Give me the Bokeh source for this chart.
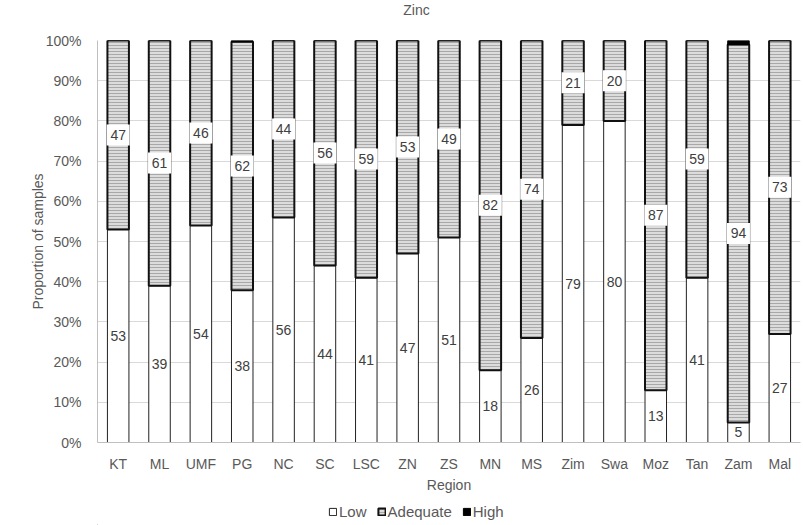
from bokeh.plotting import figure
from bokeh.models import (ColumnDataSource, FactorRange, NumeralTickFormatter, Legend, LegendItem,
                          FixedTicker, Label)
from bokeh.layouts import column
from bokeh.core.properties import value
from bokeh.embed import file_html
from bokeh.resources import INLINE

regions = ["KT", "ML", "UMF", "PG", "NC", "SC", "LSC", "ZN", "ZS", "MN", "MS",
           "Zim", "Swa", "Moz", "Tan", "Zam", "Mal"]
low = [53, 39, 54, 38, 56, 44, 41, 47, 51, 18, 26, 79, 80, 13, 41, 5, 27]
adequate = [47, 61, 46, 62, 44, 56, 59, 53, 49, 82, 74, 21, 20, 87, 59, 94, 73]
high = [0, 0, 0, 0.3, 0, 0, 0, 0, 0, 0, 0, 0, 0, 0, 0, 1, 0]
series = ["Low", "Adequate", "High"]
title_text = "Zinc"

FONT = "Liberation Sans"
GREY = "#595959"
LBL = "#404040"
FL, FR = 97, 800  # frame left / right in page pixels (frames are aligned in the column)

tot = [l + a + h for l, a, h in zip(low, adequate, high)]
low_top = [l / t for l, t in zip(low, tot)]
ad_top = [(l + a) / t for l, a, t in zip(low, adequate, tot)]
src = ColumnDataSource(dict(
    x=regions,
    zero=[0] * len(regions),
    low_top=low_top,
    ad_top=ad_top,
    one=[1] * len(regions),
    low_mid=[v / 2 for v in low_top],
    ad_mid=[(a + b) / 2 for a, b in zip(low_top, ad_top)],
    low_txt=[str(v) for v in low],
    ad_txt=[str(v) for v in adequate],
))

# title strip
t = figure(width=803, height=22, x_range=(FL, FR), y_range=(0, 1), output_backend="svg",
           toolbar_location=None, min_border=0, x_axis_location=None, y_axis_location=None)
t.grid.visible = False
t.outline_line_color = None
t.add_layout(Label(x=416, y=0.55, text=title_text, text_align="center", text_baseline="middle",
                   text_font=FONT, text_font_size="14px", text_color=GREY))

p = figure(x_range=FactorRange(*regions, range_padding=0), y_range=(0, 1),
           width=803, height=473, output_backend="svg", toolbar_location=None,
           min_border_left=FL, min_border_right=803 - FR, min_border_top=18, min_border_bottom=53)
p.outline_line_color = None
p.background_fill_color = "white"

LOW_STYLE = dict(fill_color="white", line_color="#222222", line_width=1)
AD_STYLE = dict(fill_color="#dcdcdc", hatch_pattern="horizontal_line", hatch_color="#a8a8a8",
                hatch_scale=3, hatch_weight=1, line_color="#111111", line_width=2)
HI_STYLE = dict(fill_color="black", line_color="black", line_width=1)

W = 0.52
p.vbar(x="x", bottom="zero", top="low_top", width=W, source=src, **LOW_STYLE)
p.vbar(x="x", bottom="low_top", top="ad_top", width=W, source=src, **AD_STYLE)
p.vbar(x="x", bottom="ad_top", top="one", width=W, source=src, **HI_STYLE)

# white boxes behind adequate labels
p.rect(x="x", y="ad_mid", width=23, height=21, width_units="screen", height_units="screen",
       source=src, fill_color="white", line_color=None)
p.text(x="x", y="low_mid", text="low_txt", source=src, text_align="center", text_baseline="middle",
       text_font=value(FONT), text_font_size="14px", text_color=LBL)
p.text(x="x", y="ad_mid", text="ad_txt", source=src, text_align="center", text_baseline="middle",
       text_font=value(FONT), text_font_size="14px", text_color=LBL)

# axes
p.yaxis.ticker = FixedTicker(ticks=[i / 10 for i in range(11)])
p.yaxis.formatter = NumeralTickFormatter(format="0%")
p.yaxis.axis_label = "Proportion of samples"
p.xaxis.axis_label = "Region"
for ax in (p.xaxis[0], p.yaxis[0]):
    ax.major_tick_line_color = None
    ax.minor_tick_line_color = None
    ax.axis_line_color = "#bfbfbf"
    ax.major_label_text_font = FONT
    ax.major_label_text_font_size = "14px"
    ax.major_label_text_color = GREY
    ax.axis_label_text_font = FONT
    ax.axis_label_text_font_size = "14px"
    ax.axis_label_text_color = GREY
    ax.axis_label_text_font_style = "normal"
p.yaxis.major_label_standoff = 10
p.yaxis.axis_label_standoff = -3
p.xaxis.major_label_standoff = 7
p.xaxis.axis_label_standoff = 2
p.xgrid.grid_line_color = None
p.ygrid.grid_line_color = "#d9d9d9"

# legend strip below the chart
q = figure(width=803, height=30, x_range=(0, 1), y_range=(0, 1), output_backend="svg",
           toolbar_location=None, min_border=0, x_axis_location=None, y_axis_location=None)
q.grid.visible = False
q.outline_line_color = None
rs = [q.vbar(x="x", top="top", bottom="bottom", width=0.01,
             source=ColumnDataSource(dict(x=[-5], top=[-5], bottom=[-6])), **st)
      for st in (LOW_STYLE, AD_STYLE, HI_STYLE)]
legend = Legend(items=[LegendItem(label=s, renderers=[r]) for s, r in zip(series, rs)],
                orientation="horizontal", location=(328 - FL, 5),
                label_text_font=FONT, label_text_font_size="15px", label_text_color=GREY,
                glyph_width=9, glyph_height=9, spacing=10, label_standoff=2,
                padding=0, margin=0, border_line_color=None, background_fill_alpha=0)
q.add_layout(legend, "center")

open("out.html", "w").write(file_html(column(t, p, q, spacing=0), INLINE))
